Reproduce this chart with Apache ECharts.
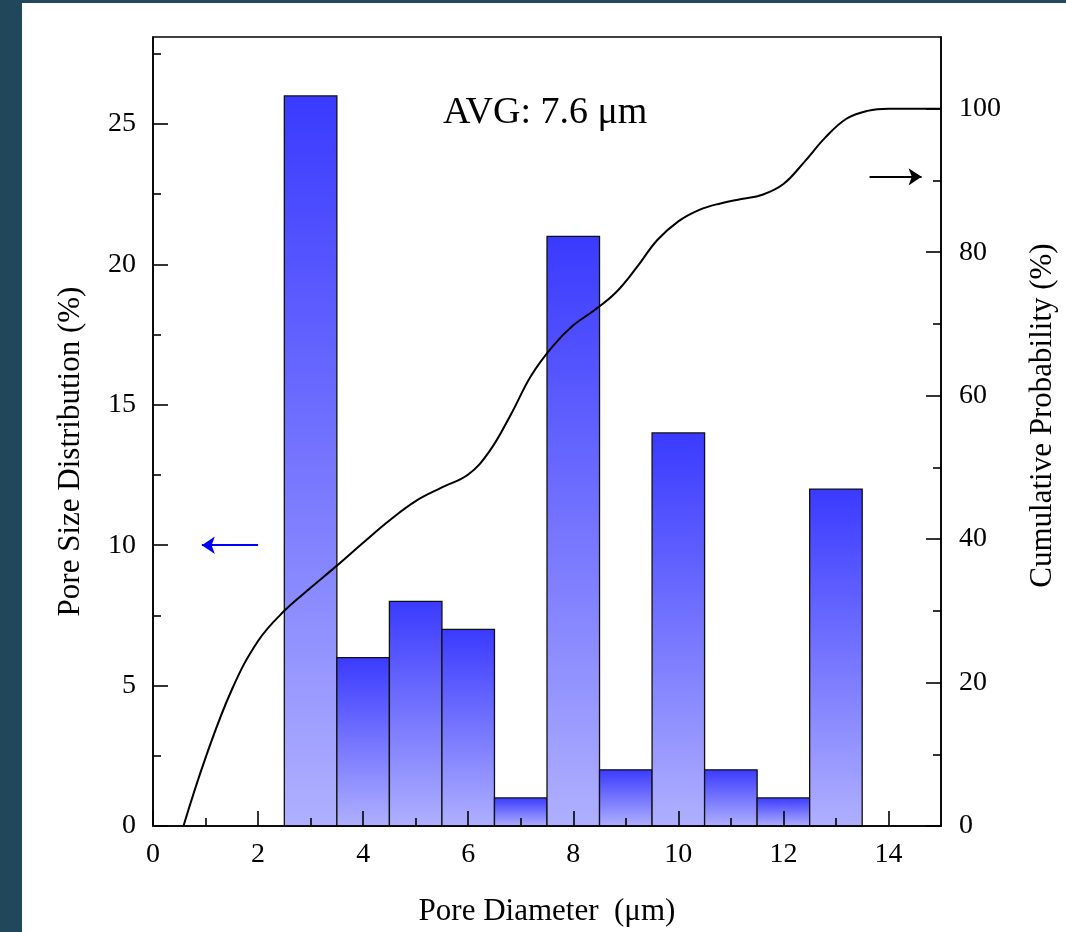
<!DOCTYPE html>
<html>
<head>
<meta charset="utf-8">
<script src="https://cdn.jsdelivr.net/npm/echarts@6/dist/echarts.min.js"></script>
<style>
  html, body { margin:0; padding:0; width:1066px; height:932px; background:#21475b; overflow:hidden; }
  #chart { position:absolute; left:22px; top:3px; width:1044px; height:929px; background:#ffffff; }
</style>
</head>
<body>
<div id="chart"></div>
<script>
// ---- data ----
var binCenters = [3, 4, 5, 6, 7, 8, 9, 10, 11, 12, 13];
var poreDist = [26, 6, 8, 7, 1, 21, 2, 14, 2, 1, 12];
var binWidth = 1;
var cumX = [0.58, 1.0, 1.5, 2.0, 2.5, 3.0, 3.5, 4.0, 4.5, 5.0, 5.5, 6.0, 6.4, 6.8, 7.2, 7.6, 8.0, 8.4, 8.8, 9.2, 9.6, 10.0, 10.4, 10.8, 11.2, 11.6, 12.0, 12.4, 12.8, 13.2, 13.6, 14.0, 15.0];
var cumY = [0, 9.5, 19, 25.8, 30, 33.2, 36.3, 39.5, 42.6, 45.3, 47.2, 49.0, 52.2, 57.2, 62.8, 66.8, 69.8, 71.9, 74.3, 77.8, 81.7, 84.3, 85.9, 86.8, 87.4, 88.0, 89.5, 92.6, 96.0, 98.6, 99.7, 100, 100];
var xMajor = [0, 2, 4, 6, 8, 10, 12, 14];
var xMinor = [1, 3, 5, 7, 9, 11, 13];
var yLeftMajor = [0, 5, 10, 15, 20, 25];
var yLeftMinor = [2.5, 7.5, 12.5, 17.5, 22.5, 27.5];
var yRightMajor = [0, 20, 40, 60, 80, 100];
var yRightMinor = [10, 30, 50, 70, 90];
var avgLabel = 'AVG: 7.6 μm';
var xTitle = 'Pore Diameter  (μm)';
var yLeftTitle = 'Pore Size Distribution (%)';
var yRightTitle = 'Cumulative Probability (%)';
var leftArrow = [[2.0, 10], [0.93, 10]];
var rightArrow = [[13.64, 90.5], [14.63, 90.5]];

var FONT = "'Liberation Serif', 'Times New Roman', serif";
var chart = echarts.init(document.getElementById('chart'));

function tick(len, values) {
  return { show: true, inside: true, length: len, customValues: values, lineStyle: { color: '#000', width: 1.6 } };
}
function label(margin, values) {
  return { show: true, color: '#000', fontFamily: FONT, fontSize: 28, margin: margin, customValues: values };
}
function majorAxis(extra) {
  var base = {
    type: 'value', z: 10,
    axisLine: { show: true, onZero: false, lineStyle: { color: '#000', width: 1.6 } },
    splitLine: { show: false },
    nameTextStyle: { color: '#000', fontFamily: FONT, fontSize: 31 }
  };
  for (var k in extra) base[k] = extra[k];
  return base;
}
function minorAxis(extra) {
  var base = {
    type: 'value', z: 10,
    axisLine: { show: false, onZero: false },
    splitLine: { show: false },
    axisLabel: { show: false }
  };
  for (var k in extra) base[k] = extra[k];
  return base;
}

var barData = binCenters.map(function (c, i) { return [c, poreDist[i]]; });
var lineData = cumX.map(function (x, i) { return [x, cumY[i]]; });

var option = {
  animation: false,
  backgroundColor: '#ffffff',
  title: {
    text: avgLabel, left: 421, top: 91, padding: 0,
    textStyle: { fontFamily: FONT, fontSize: 38, fontWeight: 'normal', color: '#000' }
  },
  grid: {
    left: 131, right: 124, top: 34, bottom: 106,
    show: true, borderColor: '#000', borderWidth: 1.6, backgroundColor: 'transparent'
  },
  xAxis: [
    majorAxis({
      min: 0, max: 15, position: 'bottom',
      axisTick: tick(15, xMajor), axisLabel: label(15, xMajor),
      name: xTitle, nameLocation: 'middle', nameGap: 70
    }),
    minorAxis({ min: 0, max: 15, position: 'bottom', axisTick: tick(8, xMinor) })
  ],
  yAxis: [
    majorAxis({
      min: 0, max: 28.1, position: 'left',
      axisTick: tick(15, yLeftMajor), axisLabel: label(17, yLeftMajor),
      name: yLeftTitle, nameLocation: 'middle', nameGap: 67,
      nameTextStyle: { color: '#000', fontFamily: FONT, fontSize: 31, padding: [0, 40, 0, 0] }
    }),
    majorAxis({
      min: 0, max: 110, position: 'right',
      axisTick: tick(15, yRightMajor), axisLabel: label(18, yRightMajor),
      name: yRightTitle, nameLocation: 'middle', nameGap: 86,
      nameTextStyle: { color: '#000', fontFamily: FONT, fontSize: 31, padding: [0, 0, 0, 32] }
    }),
    minorAxis({ min: 0, max: 28.1, position: 'left', axisTick: tick(8, yLeftMinor) }),
    minorAxis({ min: 0, max: 110, position: 'right', axisTick: tick(8, yRightMinor) })
  ],
  series: [
    {
      type: 'custom',
      name: yLeftTitle,
      xAxisIndex: 0, yAxisIndex: 0,
      data: barData,
      encode: { x: 0, y: 1 },
      renderItem: function (params, api) {
        var c = api.value(0), v = api.value(1);
        var p0 = api.coord([c - binWidth / 2, v]);
        var p1 = api.coord([c + binWidth / 2, 0]);
        return {
          type: 'rect',
          shape: { x: p0[0], y: p0[1], width: p1[0] - p0[0], height: p1[1] - p0[1] },
          style: {
            fill: new echarts.graphic.LinearGradient(0, 0, 0, 1, [
              { offset: 0, color: '#3a3aff' },
              { offset: 1, color: '#b0b0ff' }
            ]),
            stroke: '#111', lineWidth: 1.3
          }
        };
      },
      markLine: {
        silent: true, symbol: ['none', 'arrow'], symbolSize: 13,
        label: { show: false },
        lineStyle: { color: '#0000ff', width: 2, type: 'solid' },
        data: [[{ coord: leftArrow[0] }, { coord: leftArrow[1] }]]
      }
    },
    {
      type: 'line',
      name: yRightTitle,
      xAxisIndex: 0, yAxisIndex: 1,
      data: lineData,
      smooth: 0.4,
      showSymbol: false,
      lineStyle: { color: '#000', width: 2 },
      z: 5,
      markLine: {
        silent: true, symbol: ['none', 'arrow'], symbolSize: 13,
        label: { show: false },
        lineStyle: { color: '#000', width: 2, type: 'solid' },
        data: [[{ coord: rightArrow[0] }, { coord: rightArrow[1] }]]
      }
    }
  ]
};
chart.setOption(option);
</script>
</body>
</html>
